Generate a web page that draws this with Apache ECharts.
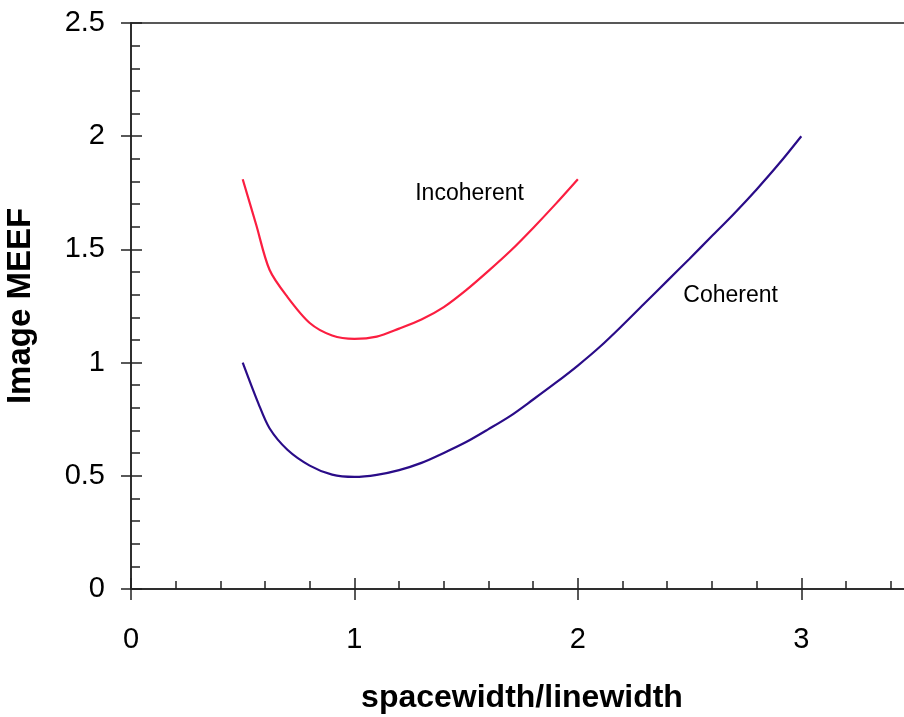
<!DOCTYPE html>
<html>
<head>
<meta charset="utf-8">
<script src="https://cdn.jsdelivr.net/npm/echarts@6/dist/echarts.min.js"></script>
<style>
  html, body { margin: 0; padding: 0; background: #fff; }
  #chart { width: 904px; height: 717px; }
</style>
</head>
<body>
<div id="chart"></div>
<script>
// MEEF vs spacewidth/linewidth
const xIncoherent = [0.5, 0.56, 0.62, 0.7, 0.8, 0.9, 1.0, 1.1, 1.2, 1.3, 1.4, 1.5, 1.6, 1.7, 1.8, 1.9, 2.0];
const yIncoherent = [1.81, 1.61, 1.41, 1.29, 1.175, 1.12, 1.105, 1.115, 1.15, 1.19, 1.245, 1.32, 1.405, 1.495, 1.595, 1.70, 1.81];

const xCoherent = [0.5, 0.57, 0.62, 0.7, 0.8, 0.9, 1.0, 1.1, 1.2, 1.3, 1.4, 1.5, 1.6, 1.7, 1.8, 1.9, 2.0,
  2.1, 2.2, 2.3, 2.4, 2.5, 2.6, 2.7, 2.8, 2.9, 3.0];
const yCoherent = [1.0, 0.82, 0.71, 0.615, 0.545, 0.505, 0.495, 0.504, 0.525, 0.557, 0.601, 0.649, 0.706, 0.766, 0.837, 0.91, 0.987,
  1.071, 1.165, 1.263, 1.361, 1.459, 1.559, 1.659, 1.765, 1.878, 2.0];

const xName = 'spacewidth/linewidth';
const yName = 'Image MEEF';
const seriesNames = ['Incoherent', 'Coherent'];

const colors = {
  red: '#fb1e40',
  blue: '#2a0c88',
  axis: '#222',
  text: '#000'
};
const font = '"Liberation Sans", Arial, sans-serif';

function pairs(xs, ys) {
  return xs.map((x, i) => [x, ys[i]]);
}

const xBase = { type: 'value', min: 0, max: 3.5, position: 'bottom', splitLine: { show: false } };
const yBase = { type: 'value', min: 0, max: 2.5, interval: 0.5, position: 'left', splitLine: { show: false } };

const option = {
  animation: false,
  grid: {
    left: 131, top: 23, right: -9, bottom: 128,
    outerBoundsMode: 'none',
    show: true, borderColor: colors.axis, borderWidth: 1.5, backgroundColor: 'transparent'
  },
  xAxis: [
    {
      ...xBase, interval: 1,
      name: xName, nameLocation: 'middle', nameGap: 93,
      nameTextStyle: { color: colors.text, fontSize: 32, fontWeight: 'bold', fontFamily: font },
      axisLine: { lineStyle: { color: colors.axis, width: 1.5 } },
      axisTick: { inside: false, length: 11, lineStyle: { color: colors.axis, width: 1.5 } },
      axisLabel: {
        color: colors.text, fontSize: 29, fontFamily: font, margin: 36,
        formatter: v => (Number.isInteger(v) ? String(v) : '')
      }
    },
    {
      ...xBase, interval: 1,
      axisLine: { show: false },
      axisTick: { inside: true, length: 11, lineStyle: { color: colors.axis, width: 1.5 } },
      axisLabel: { show: false }
    },
    {
      ...xBase, interval: 0.2,
      axisLine: { show: false },
      axisTick: { inside: true, length: 8, lineStyle: { color: colors.axis, width: 1.5 } },
      axisLabel: { show: false }
    }
  ],
  yAxis: [
    {
      ...yBase,
      name: yName, nameLocation: 'middle', nameGap: 94,
      nameTextStyle: { color: colors.text, fontSize: 33, fontWeight: 'bold', fontFamily: font },
      axisLine: { lineStyle: { color: colors.axis, width: 1.5 } },
      axisTick: { inside: false, length: 10, lineStyle: { color: colors.axis, width: 1.5 } },
      axisLabel: { color: colors.text, fontSize: 29, fontFamily: font, margin: 26 }
    },
    {
      ...yBase,
      axisLine: { show: false },
      axisTick: { inside: true, length: 11, lineStyle: { color: colors.axis, width: 1.5 } },
      minorTick: { show: true, splitNumber: 5, length: 9, lineStyle: { color: colors.axis, width: 1.5 } },
      axisLabel: { show: false }
    }
  ],
  series: [
    {
      name: seriesNames[0],
      type: 'line',
      data: pairs(xIncoherent, yIncoherent),
      showSymbol: false,
      smooth: 0.3,
      lineStyle: { color: colors.red, width: 2.2 },
      markPoint: {
        symbol: 'circle', symbolSize: 0,
        data: [{ coord: [1.272, 1.745] }],
        label: {
          show: true, position: 'right', distance: 0, formatter: seriesNames[0],
          color: colors.text, fontSize: 23, fontFamily: font
        }
      }
    },
    {
      name: seriesNames[1],
      type: 'line',
      data: pairs(xCoherent, yCoherent),
      showSymbol: false,
      smooth: 0.3,
      lineStyle: { color: colors.blue, width: 2.2 },
      markPoint: {
        symbol: 'circle', symbolSize: 0,
        data: [{ coord: [2.472, 1.294] }],
        label: {
          show: true, position: 'right', distance: 0, formatter: seriesNames[1],
          color: colors.text, fontSize: 23, fontFamily: font
        }
      }
    }
  ]
};

const chart = echarts.init(document.getElementById('chart'));
chart.setOption(option);
window.addEventListener('resize', () => chart.resize());
</script>
</body>
</html>
